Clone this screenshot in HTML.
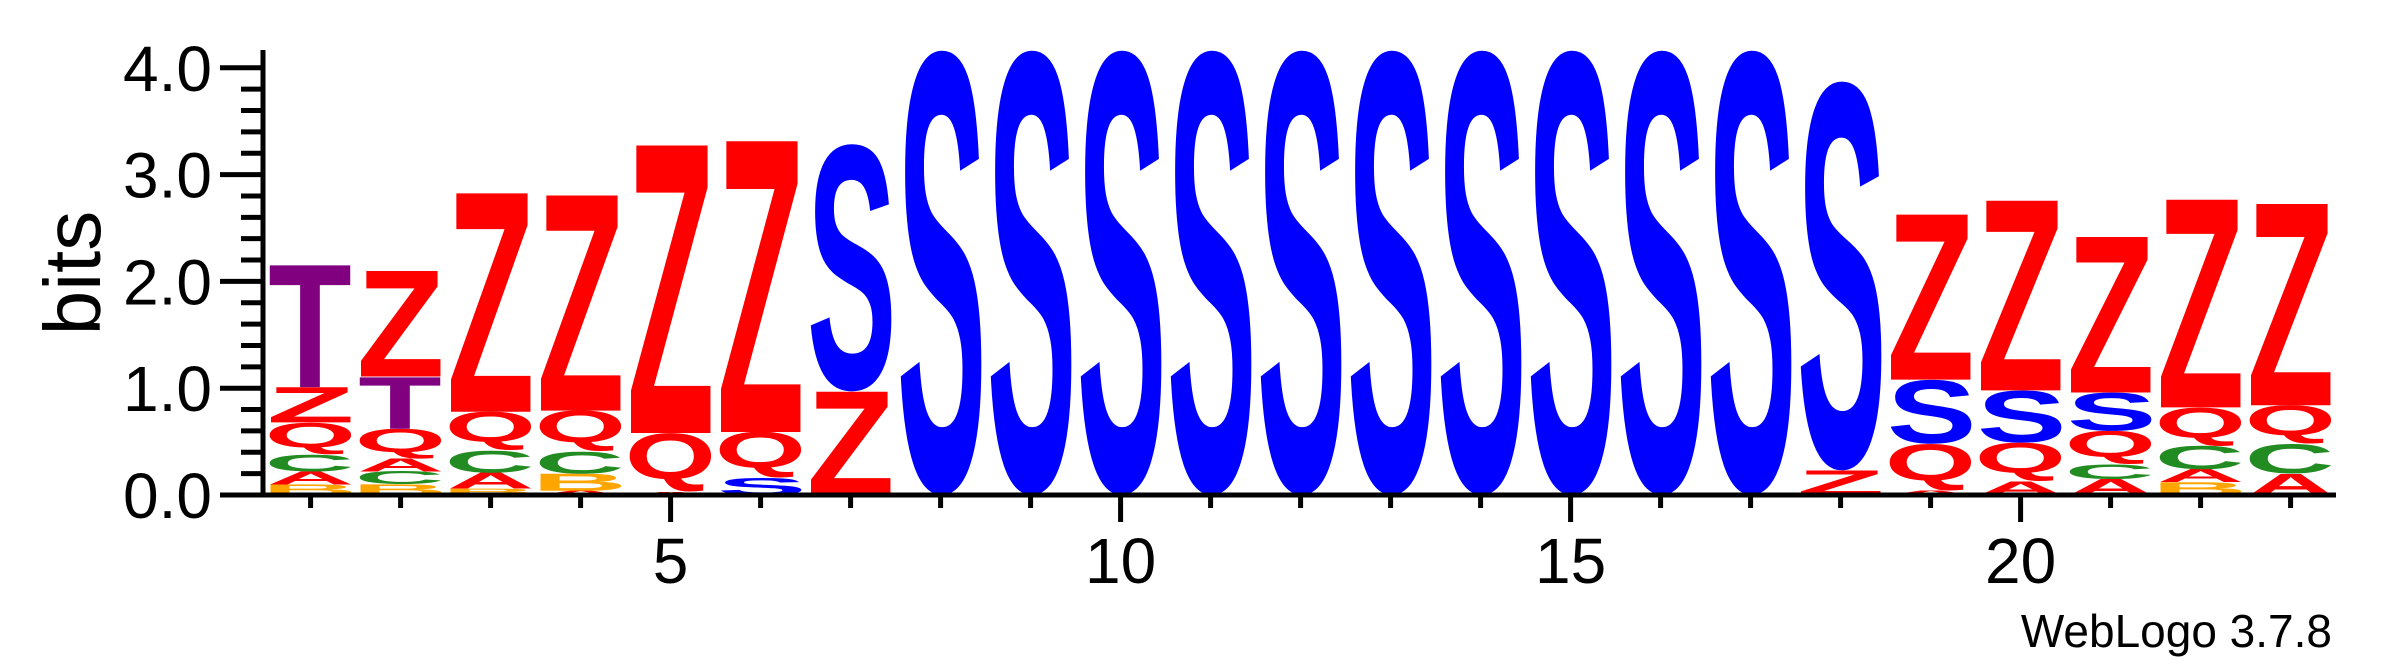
<!DOCTYPE html>
<html><head><meta charset="utf-8"><style>
html,body{margin:0;padding:0;background:#fff;}
svg{display:block;font-family:"Liberation Sans",sans-serif;}
</style></head><body>
<svg id="chart" width="2383" height="667" viewBox="0 0 2383 667" xmlns="http://www.w3.org/2000/svg">
<g id="ticks"></g>
<g id="stacks"></g>
<line x1="263" y1="50" x2="263" y2="497" stroke="#000" stroke-width="5"/>
<line x1="261" y1="495" x2="2336" y2="495" stroke="#000" stroke-width="5"/>
<text transform="translate(100,273) rotate(-90)" text-anchor="middle" font-size="80">bits</text>
<text x="2332" y="647" text-anchor="end" font-size="46">WebLogo 3.7.8</text>
</svg>
<script>
// stacks listed bottom to top
const positions = [1,2,3,4,5,6,7,8,9,10,11,12,13,14,15,16,17,18,19,20,21,22,23];
const stackLetters = [
 ["B","A","C","Q","Z","T"],
 ["B","C","A","Q","T","Z"],
 ["B","A","C","Q","Z"],
 ["A","B","C","Q","Z"],
 ["A","Q","Z"],
 ["S","Q","Z"],
 ["Z","S"],
 ["S"],["S"],["S"],["S"],["S"],["S"],["S"],["S"],["S"],["S"],
 ["Z","S"],
 ["A","Q","S","Z"],
 ["A","Q","S","Z"],
 ["A","C","Q","S","Z"],
 ["B","A","C","Q","Z"],
 ["A","C","Q","Z"]
];
const stackHeights = [
 [0.10,0.12,0.16,0.30,0.33,1.16],
 [0.10,0.12,0.12,0.28,0.49,0.99],
 [0.06,0.15,0.21,0.36,2.05],
 [0.04,0.16,0.21,0.38,2.02],
 [0.03,0.55,2.70],
 [0.16,0.43,2.73],
 [0.97,2.32],
 [4.17],[4.17],[4.17],[4.17],[4.17],[4.17],[4.17],[4.17],[4.17],[4.17],
 [0.23,3.65],
 [0.04,0.44,0.60,1.55],
 [0.13,0.36,0.49,1.78],
 [0.15,0.14,0.31,0.36,1.46],
 [0.12,0.12,0.22,0.36,1.95],
 [0.20,0.28,0.36,1.89]
];
const yTickLabels = ["0.0","1.0","2.0","3.0","4.0"];
const xTickLabels = [5,10,15,20];
const colors = {Z:"#ff0000",Q:"#ff0000",A:"#ff0000",S:"#0000ff",T:"#800080",C:"#228b22",B:"#ffa500"};

const NS="http://www.w3.org/2000/svg";
const y0=495, pxPerBit=106.8, x1=310.6, colStep=90, letterW=82;
const yScale=b=>y0-b*pxPerBit;
const xScale=p=>x1+(p-1)*colStep;
const ticks=document.getElementById('ticks');
const stacks=document.getElementById('stacks');
function mk(tag,attrs,parent){const e=document.createElementNS(NS,tag);for(const k in attrs)e.setAttribute(k,attrs[k]);parent.appendChild(e);return e;}

for(let i=0;i<=20;i++){
  const major=i%5===0; const y=yScale(i*0.2);
  const l=mk('line',{x1:major?220:241,x2:263,y1:y,y2:y,stroke:'#000','stroke-width':5},ticks);
  
  
}
yTickLabels.forEach((t,i)=>{
  const e=mk('text',{x:212,y:yScale(i)+23,'text-anchor':'end','font-size':64},ticks);
  e.textContent=t;
  
  
});
positions.forEach(p=>{
  const major=xTickLabels.includes(p); const x=xScale(p);
  const l=mk('line',{x1:x,x2:x,y1:495,y2:major?522:508,stroke:'#000','stroke-width':5},ticks);
  
  
});
xTickLabels.forEach(p=>{
  const e=mk('text',{x:xScale(p),y:583,'text-anchor':'middle','font-size':64},ticks);
  e.textContent=String(p);
  
  
});

// ink metrics per letter
const cv=document.createElement('canvas').getContext('2d');
cv.font='bold 100px "Liberation Sans", sans-serif';
const metrics={};
function met(L){
  if(!metrics[L]){
    const m=cv.measureText(L);
    let l=m.actualBoundingBoxLeft, r=m.actualBoundingBoxRight, a=m.actualBoundingBoxAscent, d=m.actualBoundingBoxDescent;
    if(!(a>0)){l=0;r=m.width||60;a=72;d=0;}
    metrics[L]={l,r,a,d};
  }
  return metrics[L];
}

stackLetters.forEach((letters,i)=>{
  const g=mk('g',{},stacks);
  
  
  let base=0;
  letters.forEach((L,j)=>{
    const h=stackHeights[i][j];
    const bottom=yScale(base), hpx=h*pxPerBit;
    const left=xScale(positions[i])-letterW/2;
    const m=met(L);
    const sx=letterW/(m.l+m.r), sy=hpx/(m.a+m.d);
    const t=mk('text',{x:0,y:0,'font-size':100,'font-weight':'bold',fill:colors[L],
      transform:`translate(${left},${bottom}) scale(${sx},${sy}) translate(${m.l},${-m.d})`},g);
    t.textContent=L;
    
    
    base+=h;
  });
});
</script>
</body></html>
